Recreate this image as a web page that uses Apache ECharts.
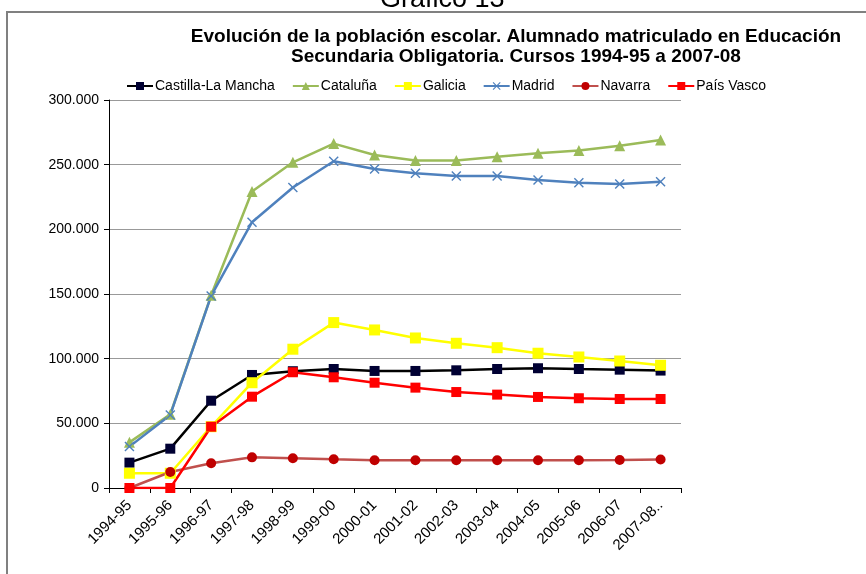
<!DOCTYPE html>
<html>
<head>
<meta charset="utf-8">
<script src="https://cdn.jsdelivr.net/npm/echarts@6/dist/echarts.min.js"></script>
<style>
  html, body { margin: 0; padding: 0; background: #fff; }
  #chart { width: 866px; height: 574px; }
</style>
</head>
<body>
<div id="chart"></div>
<script>
// cursos
const cursos = ['1994-95', '1995-96', '1996-97', '1997-98', '1998-99', '1999-00', '2000-01',
  '2001-02', '2002-03', '2003-04', '2004-05', '2005-06', '2006-07', '2007-08..']

// alumnado por comunidad
const castillaLaMancha = [19600, 30400, 67500, 87400, 90300, 92000, 90500, 90500, 91000, 92000, 92600, 92000, 91500, 90800]
const cataluna = [35300, 57000, 149000, 229200, 251800, 266300, 257500, 253300, 253200, 256200, 258800, 260900, 264700, 269100]
const galicia = [11400, 11400, 47400, 81400, 107300, 127900, 122200, 116000, 111900, 108500, 104200, 101300, 98200, 94900]
const madrid = [32000, 56500, 148500, 205500, 232400, 252600, 246600, 243300, 241300, 241300, 238200, 236100, 235100, 236700]
const navarra = [0, 12400, 19100, 23700, 23000, 22200, 21500, 21400, 21400, 21500, 21500, 21500, 21600, 22000]
const paisVasco = [0, 0, 47400, 70600, 89500, 85600, 81400, 77600, 74200, 72200, 70400, 69400, 68800, 68800]

const yTicks = { min: 0, max: 300000, interval: 50000 }

const FONT = 'Liberation Sans, Arial, sans-serif'
const crossPath = 'path://M0,1L1,0L5,4L9,0L10,1L6,5L10,9L9,10L5,6L1,10L0,9L4,5Z'

function fmtMiles(v) {
  return String(v).replace(/\B(?=(\d{3})+(?!\d))/g, '.')
}

function serie(name, data, lineColor, symbol, markColor, size) {
  return {
    name,
    type: 'line',
    data,
    symbol,
    symbolSize: size,
    showAllSymbol: true,
    lineStyle: { color: lineColor, width: 2.5 },
    itemStyle: { color: markColor, borderColor: markColor, borderWidth: 0 },
    emphasis: { disabled: true }
  }
}

const chart = echarts.init(document.getElementById('chart'), null, { renderer: 'canvas' })

chart.setOption({
  backgroundColor: '#fff',
  animation: false,
  textStyle: { fontFamily: FONT },
  graphic: [
    { type: 'text', x: 380, y: -14, style: { text: 'Gráfico 13', font: '27px ' + FONT, fill: '#000' } },
    { type: 'line', shape: { x1: 6, y1: 12, x2: 866, y2: 12 }, style: { stroke: '#808080', lineWidth: 2 } },
    { type: 'line', shape: { x1: 7, y1: 12, x2: 7, y2: 574 }, style: { stroke: '#808080', lineWidth: 2 } }
  ],
  title: {
    text: 'Evolución de la población escolar. Alumnado matriculado en Educación\nSecundaria Obligatoria. Cursos 1994-95 a 2007-08',
    left: 511,
    top: 22,
    textAlign: 'center',
    textStyle: { fontFamily: FONT, fontSize: 19, fontWeight: 'bold', color: '#000', lineHeight: 20 }
  },
  legend: {
    top: 74,
    left: 121,
    itemWidth: 26,
    itemHeight: 10,
    itemGap: 17,
    textStyle: { fontFamily: FONT, fontSize: 14, color: '#000', padding: [0, 0, 0, -3] },
    data: ['Castilla-La Mancha', 'Cataluña', 'Galicia', 'Madrid', 'Navarra', 'País Vasco']
  },
  grid: { left: 109, right: 185, top: 100, bottom: 86 },
  xAxis: {
    type: 'category',
    data: cursos,
    boundaryGap: true,
    axisLine: { lineStyle: { color: '#000', width: 1 } },
    axisTick: { show: true, alignWithLabel: false, length: 5, lineStyle: { color: '#000' } },
    axisLabel: { rotate: 45, fontSize: 15, color: '#000', margin: 15, interval: 0 }
  },
  yAxis: {
    type: 'value',
    min: yTicks.min,
    max: yTicks.max,
    interval: yTicks.interval,
    axisLine: { show: true, lineStyle: { color: '#000' } },
    axisTick: { show: true, length: 5, lineStyle: { color: '#000' } },
    axisLabel: { fontSize: 14, color: '#000', margin: 10, formatter: fmtMiles },
    splitLine: { lineStyle: { color: '#999', width: 1 } }
  },
  series: [
    serie('Castilla-La Mancha', castillaLaMancha, '#000000', 'rect', '#000033', 10),
    serie('Cataluña', cataluna, '#9BBB59', 'triangle', '#9BBB59', 11),
    serie('Galicia', galicia, '#FFFF00', 'rect', '#FFFF00', 11),
    serie('Madrid', madrid, '#4F81BD', crossPath, '#4F81BD', 10),
    serie('Navarra', navarra, '#C0504D', 'circle', '#C00000', 10),
    serie('País Vasco', paisVasco, '#FF0000', 'rect', '#FF0000', 10)
  ]
})
</script>
</body>
</html>
